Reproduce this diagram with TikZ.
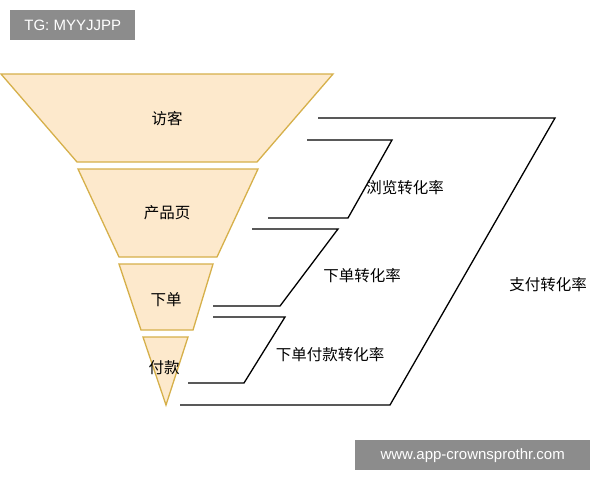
\documentclass[tikz,border=0pt]{standalone}
\usepackage{fontspec}
\setmainfont{Noto Sans CJK SC}
\newfontfamily\wmfont{Liberation Sans}
\begin{document}
\begin{tikzpicture}[x=1pt,y=-1pt,
  seg/.style={draw=funnelline,fill=funnelfill,line width=1.3pt,line join=miter},
  br/.style={draw=black,line width=1.3pt},
  lab/.style={font=\fontsize{15.5}{17}\selectfont,inner sep=0pt},
  wm/.style={fill=black!45,text=white,font=\wmfont\fontsize{15}{17}\selectfont,inner sep=0pt,minimum height=30pt,anchor=north west}]
\definecolor{funnelfill}{HTML}{FDE9CC}
\definecolor{funnelline}{HTML}{D6B04A}
\useasboundingbox (0,0) rectangle (600,480);
\fill[white] (0,0) rectangle (600,480);
\node[wm,minimum width=125pt] (w1) at (10,10) {TG: MYYJJPP};
\node[wm,minimum width=235pt] (w2) at (355,440) {www.app-crownsprothr.com};
\draw[seg] (1,74) -- (333,74) -- (257,162) -- (77,162) -- cycle;
\draw[seg] (78,169) -- (258,169) -- (217,257) -- (119,257) -- cycle;
\draw[seg] (119,264) -- (213,264) -- (193,330) -- (141,330) -- cycle;
\draw[seg] (143,337) -- (188,337) -- (166,405) -- cycle;
\node[lab] (s1) at (167,119) {访客};
\node[lab] (s2) at (167,213) {产品页};
\node[lab] (s3) at (166,300) {下单};
\node[lab] (s4) at (164,368) {付款};
\coordinate (a1) at (307,140); \coordinate (a2) at (392,140);
\coordinate (a3) at (348,218); \coordinate (a4) at (268,218);
\draw[br] (a1) -- (a2) -- (a3) -- (a4);
\coordinate (b1) at (252,229); \coordinate (b2) at (338,229);
\coordinate (b3) at (280,306); \coordinate (b4) at (213,306);
\draw[br] (b1) -- (b2) -- (b3) -- (b4);
\coordinate (c1) at (213,317); \coordinate (c2) at (285,317);
\coordinate (c3) at (244,383); \coordinate (c4) at (188,383);
\draw[br] (c1) -- (c2) -- (c3) -- (c4);
\coordinate (d1) at (318,118); \coordinate (d2) at (555,118);
\coordinate (d3) at (390,405); \coordinate (d4) at (180,405);
\draw[br] (d1) -- (d2) -- (d3) -- (d4);
\node[lab] (l1) at (405,188) {浏览转化率};
\node[lab] (l2) at (362,276) {下单转化率};
\node[lab] (l3) at (330,355) {下单付款转化率};
\node[lab] (l4) at (548,285) {支付转化率};
\end{tikzpicture}
\end{document}
